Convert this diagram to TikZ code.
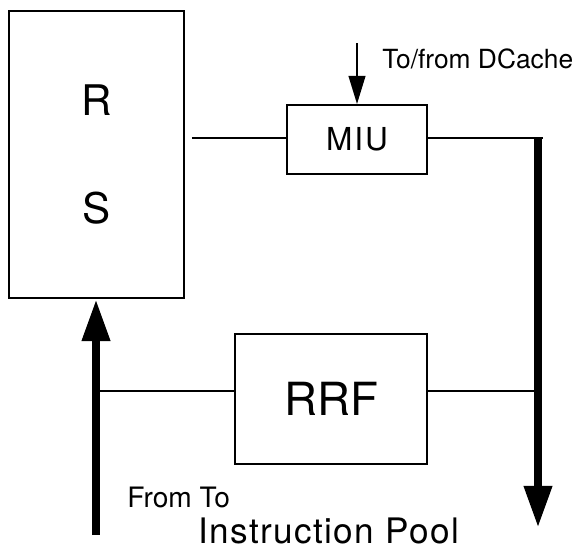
\documentclass[tikz,border=0pt]{standalone}
\usepackage{fontspec}
\setmainfont{TeX Gyre Heros}
\usepackage{tikz}
\usetikzlibrary{calc, arrows.meta}

\begin{document}
\begin{tikzpicture}[x=0.02cm, y=-0.02cm, >=Stealth,
  unit/.style={draw, line width=1.1pt, inner sep=0pt},
  link/.style={line width=1.6pt},
  bus/.style={line width=5pt, -{Triangle[width=15pt, length=24pt]}},
  feed/.style={line width=1.1pt, -{Triangle[width=9.5pt, length=16pt]}},
  lbl/.style={anchor=base west, inner sep=0pt}]

  \useasboundingbox (0,0) rectangle (584,548);

  % Key coordinates (pixel grid, y down)
  \coordinate (busL) at (96, 535);    % bottom of left bus
  \coordinate (busR) at (538, 138);   % top of right bus
  \coordinate (busRend) at (538, 528);
  \coordinate (tapL) at (96, 391);    % RRF tap on left bus
  \coordinate (tapR) at (538, 391);   % RRF tap on right bus
  \coordinate (dc) at (357, 43);      % DCache feed

  % Units
  \node[unit, minimum width=3.5cm, minimum height=5.74cm, align=center,
        font=\fontsize{24}{26}\selectfont] (rs) at (96.5, 154.5) {R\\[36pt]S};
  \node[unit, minimum width=2.8cm, minimum height=1.38cm,
        font=\fontsize{18}{20}\selectfont\addfontfeature{LetterSpace=6}] (miu) at (357, 139.5) {MIU};
  \node[unit, minimum width=3.84cm, minimum height=2.6cm,
        font=\fontsize{26}{28}\selectfont] (rrf) at (331, 399) {RRF};

  % --- Links ---
  \draw[link, shorten <=4pt] (rs.east |- busR) -- (miu.west |- busR);
  \draw[link] (miu.east |- busR) -- (543, 138);
  \draw[link] (tapL) -- (tapL -| rrf.west);
  \draw[link] (rrf.east |- tapR) -- (tapR);

  % --- Buses ---
  \draw[bus] (busL) -- (busL |- rs.south);
  \draw[bus] (busR) -- (busRend);
  \draw[feed] (dc) -- (miu.north);

  % Labels
  \node[lbl, font=\fontsize{15}{17}\selectfont] (dclbl) at (382, 68) {To/from DCache};
  \node[lbl, font=\fontsize{16}{18}\selectfont] (fromto) at (127, 507) {From To};
  \node[lbl, font=\fontsize{20}{22}\selectfont\addfontfeature{LetterSpace=4}] (pool) at (198, 543) {Instruction Pool};
\end{tikzpicture}
\end{document}
